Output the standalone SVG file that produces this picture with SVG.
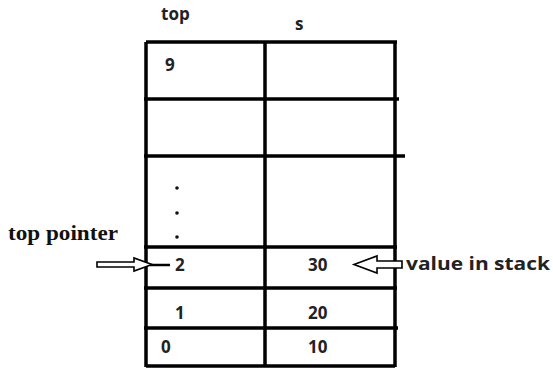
<svg xmlns="http://www.w3.org/2000/svg" width="553" height="369" viewBox="0 0 553 369">
<style>
.t{font-family:"Open Sans","Liberation Sans",sans-serif;font-weight:bold;fill:#222;font-size:17px}
.s{font-family:"Liberation Serif",serif;font-weight:bold;fill:#111;font-size:20px}
.g{stroke:#000;stroke-width:3.5;fill:none}
.a{stroke:#000;stroke-width:1.6;fill:#fff;stroke-linejoin:miter}
</style>
<rect width="553" height="369" fill="#fff"/>
<g id="grid">
<path class="g" d="M146 42V367M265 42V367M395 42V367M146 42H397M144 99H399M144 156H405M144 247H397M144 288H397M144 328H398M146 366H395"/>
</g>
<g id="labels">
<text class="t" x="161" y="20">top</text>
<text class="t" x="295" y="30">s</text>
<text class="t" x="165" y="71">9</text>
<circle cx="177" cy="188" r="1.8" fill="#111"/>
<circle cx="177" cy="213" r="1.8" fill="#111"/>
<circle cx="177" cy="237" r="1.8" fill="#111"/>
<text class="t" x="175" y="271">2</text>
<text class="t" x="175" y="319">1</text>
<text class="t" x="161" y="353">0</text>
<text class="t" x="308" y="271">30</text>
<text class="t" x="308" y="319">20</text>
<text class="t" x="308" y="353">10</text>
<text class="s" x="8" y="240" textLength="110" lengthAdjust="spacingAndGlyphs">top pointer</text>
<text class="t" x="406" y="270" font-size="18" textLength="144" lengthAdjust="spacingAndGlyphs">value in stack</text>
</g>
<g id="connectors">
<polygon class="a" points="97,262 134,262 134,258 152,264.5 134,271 134,267 97,267"/>
<line x1="150" y1="265" x2="170" y2="265" stroke="#000" stroke-width="2.5"/>
<polygon class="a" points="402,261 377,261 377,256 354,264.5 377,273 377,268 402,268"/>
</g>
</svg>
